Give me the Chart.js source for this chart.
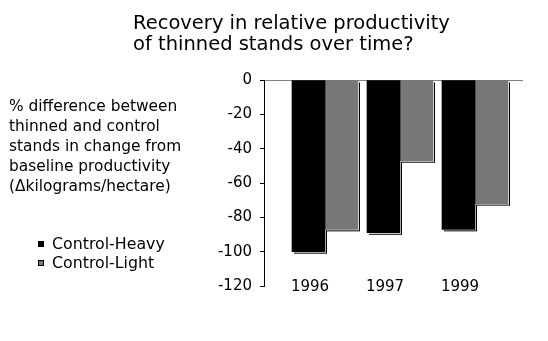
<!DOCTYPE html>
<html lang="en">
<head>
  <meta charset="UTF-8">
  <title>Recovery in relative productivity</title>
  <script src="https://cdn.jsdelivr.net/npm/chart.js"></script>
  <style>
    body {
      margin: 0;
      background: #fff;
      font-family: "DejaVu Sans", sans-serif;
      color: #000;
    }
    .wrap {
      position: relative;
      width: 548px;
      height: 341px;
      overflow: hidden;
    }
    canvas {
      position: absolute;
      left: 0;
      top: 0;
    }
    .title {
      position: absolute;
      left: 133px;
      top: 12px;
      font-size: 19.5px;
      line-height: 21px;
      white-space: nowrap;
    }
    .ylabel {
      position: absolute;
      left: 9px;
      top: 96px;
      font-size: 15.4px;
      line-height: 20px;
      white-space: nowrap;
    }
    .legend {
      position: absolute;
      left: 38px;
      top: 234px;
      font-size: 15.8px;
      line-height: 19px;
    }
    .legend div {
      display: flex;
      align-items: center;
    }
    .legend span.box {
      display: inline-block;
      width: 6px;
      height: 6px;
      margin-right: 8px;
      box-sizing: border-box;
    }
  </style>
</head>
<body>
  <div class="wrap">
    <canvas id="chart" width="548" height="341"></canvas>
    <div class="title">Recovery in relative productivity<br>of thinned stands over time?</div>
    <div class="ylabel">% difference between<br>thinned and control<br>stands in change from<br>baseline productivity<br>(&Delta;kilograms/hectare)</div>
    <div class="legend" id="legend"></div>
  </div>

  <script>
    const years = ["1996", "1997", "1999"];
    const controlHeavy = [-100, -89, -87];
    const controlLight = [-87, -47, -72];
    const yTicks = [0, -20, -40, -60, -80, -100, -120];

    const seriesInfo = [
      { label: "Control-Heavy", data: controlHeavy, color: "#000000", edge: "#000000" },
      { label: "Control-Light", data: controlLight, color: "#777777", edge: "#000000" }
    ];

    // offset outline behind each bar (white gap then black line)
    const barShadow = {
      id: "barShadow",
      beforeDatasetsDraw(chart) {
        const ctx = chart.ctx;
        ctx.save();
        chart.data.datasets.forEach((ds, i) => {
          const meta = chart.getDatasetMeta(i);
          meta.data.forEach(bar => {
            const left = bar.x - bar.width / 2;
            const top = Math.min(bar.y, bar.base);
            const h = Math.abs(bar.base - bar.y);
            ctx.fillStyle = "#000";
            ctx.fillRect(left + 2, top + 2, bar.width, h);
            ctx.fillStyle = "#fff";
            ctx.fillRect(left + 1, top + 1, bar.width, h);
          });
        });
        ctx.restore();
      }
    };

    const legend = document.getElementById("legend");
    seriesInfo.forEach(s => {
      const row = document.createElement("div");
      const box = document.createElement("span");
      box.className = "box";
      box.style.background = s.color;
      box.style.border = "1px solid " + s.edge;
      row.appendChild(box);
      row.append(s.label);
      legend.appendChild(row);
    });

    new Chart(document.getElementById("chart"), {
      type: "bar",
      data: {
        datasets: seriesInfo.map(s => ({
          label: s.label,
          data: s.data.map((v, i) => ({ x: i + 1, y: v })),
          backgroundColor: s.color,
          borderWidth: 0,
          barThickness: 33
        }))
      },
      options: {
        responsive: false,
        animation: false,
        layout: { padding: { left: 214, right: 25, top: 80, bottom: 55 } },
        plugins: {
          legend: { display: false },
          tooltip: { enabled: false }
        },
        scales: {
          x: {
            type: "linear",
            offset: false,
            min: 1 - 61 / 75,
            max: 1 - 61 / 75 + 259 / 75,
            afterBuildTicks: scale => {
              scale.ticks = years.map((y, i) => ({ value: i + 1 - 0.2 }));
            },
            afterFit: scale => { scale.height = 0; },
            grid: { display: false, drawTicks: false },
            border: { display: false },
            ticks: {
              callback: (v, i) => years[i],
              color: "#000",
              mirror: true,
              padding: -10,
              maxRotation: 0,
              font: { family: "DejaVu Sans", size: 15 }
            }
          },
          y: {
            min: -120,
            max: 0,
            afterFit: scale => { scale.width = 50; },
            afterBuildTicks: scale => {
              const t = [];
              for (let v = 0; v >= -120; v -= 10) t.push({ value: v });
              scale.ticks = t;
            },
            grid: {
              drawOnChartArea: true,
              color: c => (c.tick && c.tick.value === 0 ? "#808080" : "rgba(0,0,0,0)"),
              tickColor: "#000",
              tickLength: 4,
              lineWidth: 1
            },
            border: { display: true, color: "#000", width: 1 },
            ticks: {
              callback: v => (yTicks.includes(v) ? String(v) : ""),
              color: "#000",
              padding: 8,
              font: { family: "DejaVu Sans", size: 15 }
            }
          }
        }
      },
      plugins: [barShadow]
    });
  </script>
</body>
</html>
